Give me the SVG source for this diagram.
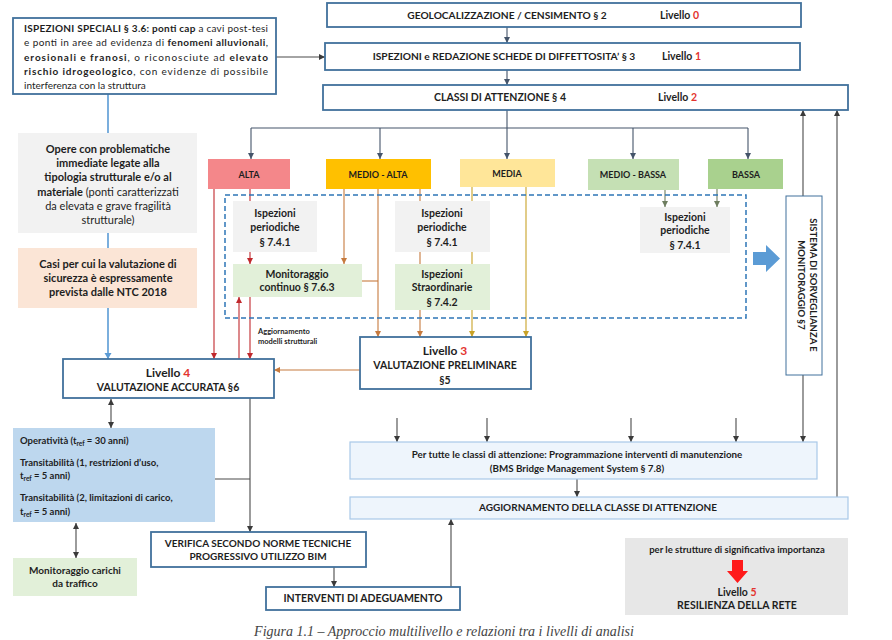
<svg xmlns="http://www.w3.org/2000/svg" width="892" height="640" viewBox="0 0 892 640">
<style>
text{font-family:Lato,"Open Sans","Liberation Sans",sans-serif;fill:#1e1e1e}
.b{font-weight:bold}
.n{font-weight:normal}
.c{text-anchor:middle}
.lv{fill:#e3342f}
.bx{fill:#fff;stroke:#41719c;stroke-width:1.8}
.bt{fill:#fff;stroke:#41719c;stroke-width:1}
.lb{fill:#eef5fc;stroke:#a9c9e8;stroke-width:1.2}
.ln{fill:none;stroke-width:1.1}
.dk{stroke:#44546a}
.bk{stroke:#4a4a4a}
.rd{stroke:#c0282c}
.or{stroke:#c67a3e}
.gd{stroke:#c9a227}
.gr{stroke:#6e7d5f}
.bl{stroke:#5b9bd5;stroke-width:1.6}
</style>
<defs>
<marker id="aDk" markerUnits="userSpaceOnUse" markerWidth="7" markerHeight="7" refX="6" refY="3" orient="auto-start-reverse"><path d="M0,0 L6,3 L0,6 z" fill="#44546a"/></marker>
<marker id="aBk" markerUnits="userSpaceOnUse" markerWidth="7" markerHeight="7" refX="6" refY="3" orient="auto-start-reverse"><path d="M0,0 L6,3 L0,6 z" fill="#3a3a3a"/></marker>
<marker id="aRd" markerUnits="userSpaceOnUse" markerWidth="7" markerHeight="7" refX="6" refY="3" orient="auto-start-reverse"><path d="M0,0 L6,3 L0,6 z" fill="#c0282c"/></marker>
<marker id="aOr" markerUnits="userSpaceOnUse" markerWidth="7" markerHeight="7" refX="6" refY="3" orient="auto-start-reverse"><path d="M0,0 L6,3 L0,6 z" fill="#c67a3e"/></marker>
<marker id="aGd" markerUnits="userSpaceOnUse" markerWidth="7" markerHeight="7" refX="6" refY="3" orient="auto-start-reverse"><path d="M0,0 L6,3 L0,6 z" fill="#c9a227"/></marker>
<marker id="aGr" markerUnits="userSpaceOnUse" markerWidth="7" markerHeight="7" refX="6" refY="3" orient="auto-start-reverse"><path d="M0,0 L6,3 L0,6 z" fill="#6e7d5f"/></marker>
<marker id="aBl" markerUnits="userSpaceOnUse" markerWidth="8" markerHeight="8" refX="6" refY="3.5" orient="auto"><path d="M0,0 L6,3.5 L0,7 z" fill="#5b9bd5"/></marker>
</defs>

<g id="connectors">
<path class="ln dk" d="M507,27 V43" marker-end="url(#aDk)"/>
<path class="ln dk" d="M507,70 V85" marker-end="url(#aDk)"/>
<path class="ln bk" d="M276,57 H325" marker-end="url(#aBk)"/>
<path class="ln dk" d="M507,110 V128 M251,128 H748"/>
<path class="ln dk" d="M251,128 V159" marker-end="url(#aDk)"/>
<path class="ln dk" d="M380,128 V159" marker-end="url(#aDk)"/>
<path class="ln dk" d="M507,128 V159" marker-end="url(#aDk)"/>
<path class="ln dk" d="M633,128 V159" marker-end="url(#aDk)"/>
<path class="ln dk" d="M748,128 V159" marker-end="url(#aDk)"/>
<path class="ln bl" d="M108,94 V133 M108,233 V248"/>
<path class="ln bl" d="M108,308 V359" marker-end="url(#aBl)"/>
<path class="ln rd" d="M214,189 V359" marker-end="url(#aRd)"/>
<path class="ln rd" d="M250,189 V201"/>
<path class="ln rd" d="M250,252 V264" marker-end="url(#aRd)"/>
<path class="ln rd" d="M239,359 V297" marker-end="url(#aRd)"/>
<path class="ln rd" d="M250,297 V359" marker-end="url(#aRd)"/>
<path class="ln or" d="M344,189 V264" marker-end="url(#aOr)"/>
<path class="ln or" d="M378,189 V337" marker-end="url(#aOr)"/>
<path class="ln or" d="M362,281 H378"/>
<path class="ln or" d="M420,189 V201 M420,252 V264"/>
<path class="ln or" d="M420,310 V337" marker-end="url(#aOr)"/>
<path class="ln or" d="M360,370 H274" marker-end="url(#aOr)"/>
<path class="ln gd" d="M472,187 V201 M472,252 V264"/>
<path class="ln gd" d="M472,310 V337" marker-end="url(#aGd)"/>
<path class="ln gd" d="M526,187 V337" marker-end="url(#aGd)"/>
<path class="ln gr" d="M665,190 V207" marker-end="url(#aGr)"/>
<path class="ln gr" d="M717,189 V207" marker-end="url(#aGr)"/>
<path class="ln bk" d="M803,196 V110" marker-end="url(#aBk)"/>
<path class="ln bk" d="M803,375 V442" marker-end="url(#aBk)"/>
<path class="ln bk" d="M837,497 V110" marker-end="url(#aBk)"/>
<path class="ln bk" d="M397,418 V442" marker-end="url(#aBk)"/>
<path class="ln bk" d="M487,418 V442" marker-end="url(#aBk)"/>
<path class="ln bk" d="M631,418 V442" marker-end="url(#aBk)"/>
<path class="ln bk" d="M736,418 V442" marker-end="url(#aBk)"/>
<path class="ln bk" d="M577,479 V497" marker-end="url(#aBk)"/>
<path class="ln bk" d="M451,587 V519" marker-end="url(#aBk)"/>
<path class="ln bk" d="M215,479 H250"/>
<path class="ln bk" d="M250,398 V532" marker-end="url(#aBk)"/>
<path class="ln bk" d="M334,567 V587" marker-end="url(#aBk)"/>
<path class="ln bk" d="M111,399 V428" marker-start="url(#aBk)" marker-end="url(#aBk)"/>
<path class="ln bk" d="M76,523 V558" marker-start="url(#aBk)" marker-end="url(#aBk)"/>
<polygon points="753,252 766,252 766,245 780,258.5 766,272 766,265 753,265" fill="#5b9bd5"/>
</g>

<g id="n-speciali">
<rect class="bx" x="13" y="18" width="263" height="76"/>
<text x="24" y="32" font-size="10" textLength="244" lengthAdjust="spacing"><tspan class="b">ISPEZIONI SPECIALI § 3.6: ponti cap</tspan> a cavi post-tesi</text>
<text x="24" y="46" font-size="10" textLength="244" lengthAdjust="spacing">e ponti in aree ad evidenza di <tspan class="b">fenomeni alluvionali</tspan>,</text>
<text x="24" y="61" font-size="10" textLength="244" lengthAdjust="spacing"><tspan class="b">erosionali e franosi</tspan>, o riconosciute ad <tspan class="b">elevato</tspan></text>
<text x="24" y="75" font-size="10" textLength="244" lengthAdjust="spacing"><tspan class="b">rischio idrogeologico</tspan>, con evidenze di possibile</text>
<text x="24" y="89" font-size="10">interferenza con la struttura</text>
</g>

<g id="n-geo">
<rect class="bx" x="327" y="3" width="474" height="24"/>
<text class="b c" x="507" y="19" font-size="10.2">GEOLOCALIZZAZIONE / CENSIMENTO § 2</text>
<text class="b" x="660" y="19" font-size="10.5">Livello <tspan class="lv">0</tspan></text>
</g>
<g id="n-ispezioni">
<rect class="bx" x="325" y="43" width="475" height="27"/>
<text class="b c" x="504" y="60" font-size="10.2">ISPEZIONI e REDAZIONE SCHEDE DI DIFFETTOSITA’ § 3</text>
<text class="b" x="662" y="60" font-size="10.5">Livello <tspan class="lv">1</tspan></text>
</g>
<g id="n-classi">
<rect class="bx" x="323" y="85" width="525" height="25"/>
<text class="b c" x="500" y="101" font-size="10.5">CLASSI DI ATTENZIONE § 4</text>
<text class="b" x="658" y="101" font-size="10.5">Livello <tspan class="lv">2</tspan></text>
</g>

<g id="n-opere">
<rect x="18" y="133" width="179" height="100" fill="#f2f2f2"/>
<text class="b c" x="108" y="153" font-size="11">Opere con problematiche</text>
<text class="b c" x="108" y="167" font-size="11">immediate legate alla</text>
<text class="b c" x="108" y="181" font-size="11">tipologia strutturale e/o al</text>
<text class="c" x="108" y="196" font-size="11"><tspan class="b">materiale</tspan> (ponti caratterizzati</text>
<text class="c" x="108" y="210" font-size="11">da elevata e grave fragilità</text>
<text class="c" x="108" y="224" font-size="11">strutturale)</text>
</g>
<g id="n-casi">
<rect x="18" y="248" width="179" height="60" fill="#fbe5d6"/>
<text class="b c" x="108" y="268" font-size="11">Casi per cui la valutazione di</text>
<text class="b c" x="108" y="282" font-size="11">sicurezza è espressamente</text>
<text class="b c" x="108" y="296" font-size="11">prevista dalle NTC 2018</text>
</g>

<g id="n-alta"><rect x="208" y="159" width="82" height="30" fill="#f4878a"/><text class="b c" x="249" y="178" font-size="9">ALTA</text></g>
<g id="n-medioalta"><rect x="326" y="159" width="105" height="30" fill="#ffc000"/><text class="b c" x="378" y="178" font-size="9">MEDIO - ALTA</text></g>
<g id="n-media"><rect x="460" y="159" width="95" height="28" fill="#ffe699"/><text class="b c" x="507" y="177" font-size="9">MEDIA</text></g>
<g id="n-mediobassa"><rect x="588" y="159" width="91" height="31" fill="#c5e0b4"/><text class="b c" x="633" y="178" font-size="9">MEDIO - BASSA</text></g>
<g id="n-bassa"><rect x="708" y="159" width="75" height="30" fill="#a9d18e"/><text class="b c" x="746" y="178" font-size="9">BASSA</text></g>

<g id="n-dashed"><rect x="225" y="195" width="521" height="123" fill="none" stroke="#2e75b6" stroke-width="1.5" stroke-dasharray="5,3"/></g>

<g id="n-isp1">
<rect x="233" y="201" width="84" height="51" fill="#f2f2f2"/>
<text class="b c" x="275" y="217" font-size="10.5">Ispezioni</text>
<text class="b c" x="275" y="231" font-size="10.5">periodiche</text>
<text class="b c" x="275" y="246" font-size="10.5">§ 7.4.1</text>
</g>
<g id="n-isp2">
<rect x="395" y="201" width="95" height="51" fill="#f2f2f2"/>
<text class="b c" x="442" y="217" font-size="10.5">Ispezioni</text>
<text class="b c" x="442" y="231" font-size="10.5">periodiche</text>
<text class="b c" x="442" y="246" font-size="10.5">§ 7.4.1</text>
</g>
<g id="n-isp3">
<rect x="640" y="207" width="90" height="46" fill="#f2f2f2"/>
<text class="b c" x="685" y="221" font-size="10.5">Ispezioni</text>
<text class="b c" x="685" y="234" font-size="10.5">periodiche</text>
<text class="b c" x="685" y="249" font-size="10.5">§ 7.4.1</text>
</g>
<g id="n-monit">
<rect x="233" y="264" width="129" height="33" fill="#e2f0d9"/>
<text class="b c" x="297" y="278" font-size="10.5">Monitoraggio</text>
<text class="b c" x="297" y="291" font-size="10.5">continuo § 7.6.3</text>
</g>
<g id="n-straord">
<rect x="395" y="264" width="95" height="46" fill="#e2f0d9"/>
<text class="b c" x="442" y="278" font-size="10.5">Ispezioni</text>
<text class="b c" x="442" y="291" font-size="10.5">Straordinarie</text>
<text class="b c" x="442" y="306" font-size="10.5">§ 7.4.2</text>
</g>

<g id="n-aggmod">
<text class="b" x="258" y="334" font-size="7.5">Aggiornamento</text>
<text class="b" x="258" y="344" font-size="7.5">modelli strutturali</text>
</g>

<g id="n-sistema">
<rect class="bt" x="786" y="196" width="36" height="179"/>
<text class="b c" transform="translate(810,285) rotate(90)" font-size="9.5">SISTEMA DI SORVEGLIANZA E</text>
<text class="b c" transform="translate(798,285) rotate(90)" font-size="9.5">MONITORAGGIO  §7</text>
</g>

<g id="n-liv3">
<rect class="bx" x="360" y="337" width="171" height="52"/>
<text class="b c" x="445" y="355" font-size="12">Livello <tspan class="lv">3</tspan></text>
<text class="b c" x="445" y="369" font-size="10.5">VALUTAZIONE PRELIMINARE</text>
<text class="b c" x="445" y="384" font-size="10.5">§5</text>
</g>
<g id="n-liv4">
<rect class="bx" x="63" y="359" width="211" height="39"/>
<text class="b c" x="168" y="377" font-size="12">Livello <tspan class="lv">4</tspan></text>
<text class="b c" x="168" y="391" font-size="10.5">VALUTAZIONE ACCURATA  §6</text>
</g>

<g id="n-oper">
<rect x="13" y="428" width="202" height="94" fill="#bdd7ee"/>
<text class="b" x="20" y="444" font-size="9.5">Operatività (t<tspan font-size="6.5" dy="2">ref</tspan><tspan dy="-2"> = 30 anni)</tspan></text>
<text class="b" x="20" y="466" font-size="9.5">Transitabilità (1, restrizioni d’uso,</text>
<text class="b" x="20" y="479" font-size="9.5">t<tspan font-size="6.5" dy="2">ref</tspan><tspan dy="-2"> = 5 anni)</tspan></text>
<text class="b" x="20" y="501" font-size="9.5">Transitabilità (2, limitazioni di carico,</text>
<text class="b" x="20" y="515" font-size="9.5">t<tspan font-size="6.5" dy="2">ref</tspan><tspan dy="-2"> = 5 anni)</tspan></text>
</g>
<g id="n-carichi">
<rect x="13" y="558" width="124" height="38" fill="#e2f0d9"/>
<text class="b c" x="75" y="574" font-size="10">Monitoraggio carichi</text>
<text class="b c" x="75" y="587" font-size="10">da traffico</text>
</g>

<g id="n-program">
<rect class="lb" x="350" y="442" width="467" height="37"/>
<text class="b c" x="577" y="458" font-size="9.8">Per tutte le classi di attenzione: Programmazione interventi di manutenzione</text>
<text class="b c" x="577" y="472" font-size="9.8">(BMS Bridge Management System § 7.8)</text>
</g>
<g id="n-aggclasse">
<rect class="lb" x="350" y="497" width="498" height="22"/>
<text class="b c" x="598" y="511" font-size="10">AGGIORNAMENTO DELLA CLASSE DI ATTENZIONE</text>
</g>

<g id="n-verifica">
<rect class="bx" x="151" y="532" width="215" height="35"/>
<text class="b c" x="258" y="547" font-size="10">VERIFICA SECONDO NORME TECNICHE</text>
<text class="b c" x="258" y="560" font-size="10">PROGRESSIVO UTILIZZO BIM</text>
</g>
<g id="n-interventi">
<rect class="bx" x="266" y="587" width="194" height="23"/>
<text class="b c" x="363" y="602" font-size="10.5">INTERVENTI DI ADEGUAMENTO</text>
</g>

<g id="n-resilienza">
<rect x="625" y="538" width="223" height="77" fill="#e7e7e7"/>
<text class="b c" x="737" y="553" font-size="9.5">per le strutture di significativa importanza</text>
<polygon points="732,560 743,560 743,571 748,571 737.5,583 727,571 732,571" fill="#ff1a1a"/>
<text class="b c" x="737" y="596" font-size="10.5">Livello <tspan class="lv">5</tspan></text>
<text class="b c" x="737" y="609" font-size="10.5">RESILIENZA DELLA RETE</text>
</g>

<text x="444" y="636" font-size="14" font-style="italic" text-anchor="middle" style="font-family:'Liberation Serif',serif;fill:#444">Figura 1.1 – Approccio multilivello e relazioni tra i livelli di analisi</text>
</svg>
